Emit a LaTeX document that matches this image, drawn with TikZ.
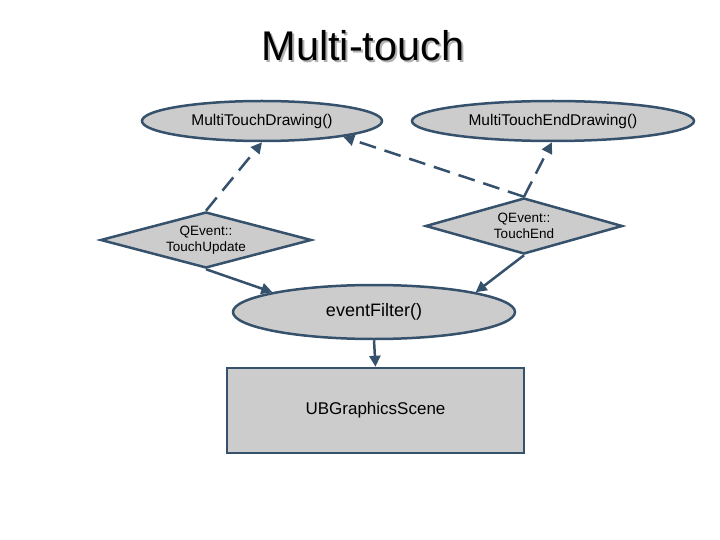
\documentclass[tikz,border=0pt]{standalone}
\usepackage{fontspec}
\setmainfont{Liberation Sans}
\usetikzlibrary{shapes.geometric,arrows.meta}
\definecolor{edge}{HTML}{35516C}
\definecolor{boxfill}{HTML}{CCCCCC}
\definecolor{shadowgray}{HTML}{B0B0B0}
\begin{document}
\begin{tikzpicture}[x=1pt,y=-1pt,
  shapebase/.style={draw=edge,fill=boxfill,line width=2.5pt,inner sep=0pt,text=black,align=center},
  ellipsebox/.style={shapebase,ellipse},
  diamondbox/.style={shapebase,diamond},
  rectbox/.style={shapebase,rectangle},
  conn/.style={draw=edge,line width=2.5pt,-{Triangle[length=11pt,width=11pt]}},
  dashconn/.style={conn,dash pattern=on 17pt off 9pt}
]
\useasboundingbox (0,0) rectangle (720,540);
\node[text=shadowgray,font=\fontsize{41.5}{46}\selectfont] (titleshadow) at (365,48) {Multi-touch};
\node[font=\fontsize{41.5}{46}\selectfont] (title) at (363,46) {Multi-touch};

\node[ellipsebox,minimum width=240pt,minimum height=40pt,font=\fontsize{15.5}{18}\selectfont] (e1) at (262,121) {MultiTouchDrawing()};
\node[ellipsebox,minimum width=282pt,minimum height=40pt,font=\fontsize{15.5}{18}\selectfont] (e2) at (553,121) {MultiTouchEndDrawing()};

\node[diamondbox,aspect=3.77,minimum width=211pt,minimum height=56pt,font=\fontsize{13.5}{16}\selectfont] (d1) at (206,240) {QEvent::\\TouchUpdate};
\node[diamondbox,aspect=3.52,minimum width=197pt,minimum height=56pt,font=\fontsize{13.5}{16}\selectfont] (d2) at (524,226) {QEvent::\\TouchEnd};

\node[ellipsebox,minimum width=282pt,minimum height=54pt,font=\fontsize{18}{21}\selectfont] (ef) at (374,312) {eventFilter()};
\node[rectbox,minimum width=297pt,minimum height=85pt,font=\fontsize{17}{20}\selectfont] (scene) at (375.5,410.5) {UBGraphicsScene};

\draw[dashconn] (d1.north) -- (e1.south);
\draw[dashconn] (d2.north) -- (e1.-11);
\draw[dashconn] (d2.north) -- (e2.-93);
\draw[conn] (d1.south) -- (ef.169);
\draw[conn] (d2.south) -- (ef.11);
\draw[conn] (ef.south) -- (scene.north);
\end{tikzpicture}
\end{document}
